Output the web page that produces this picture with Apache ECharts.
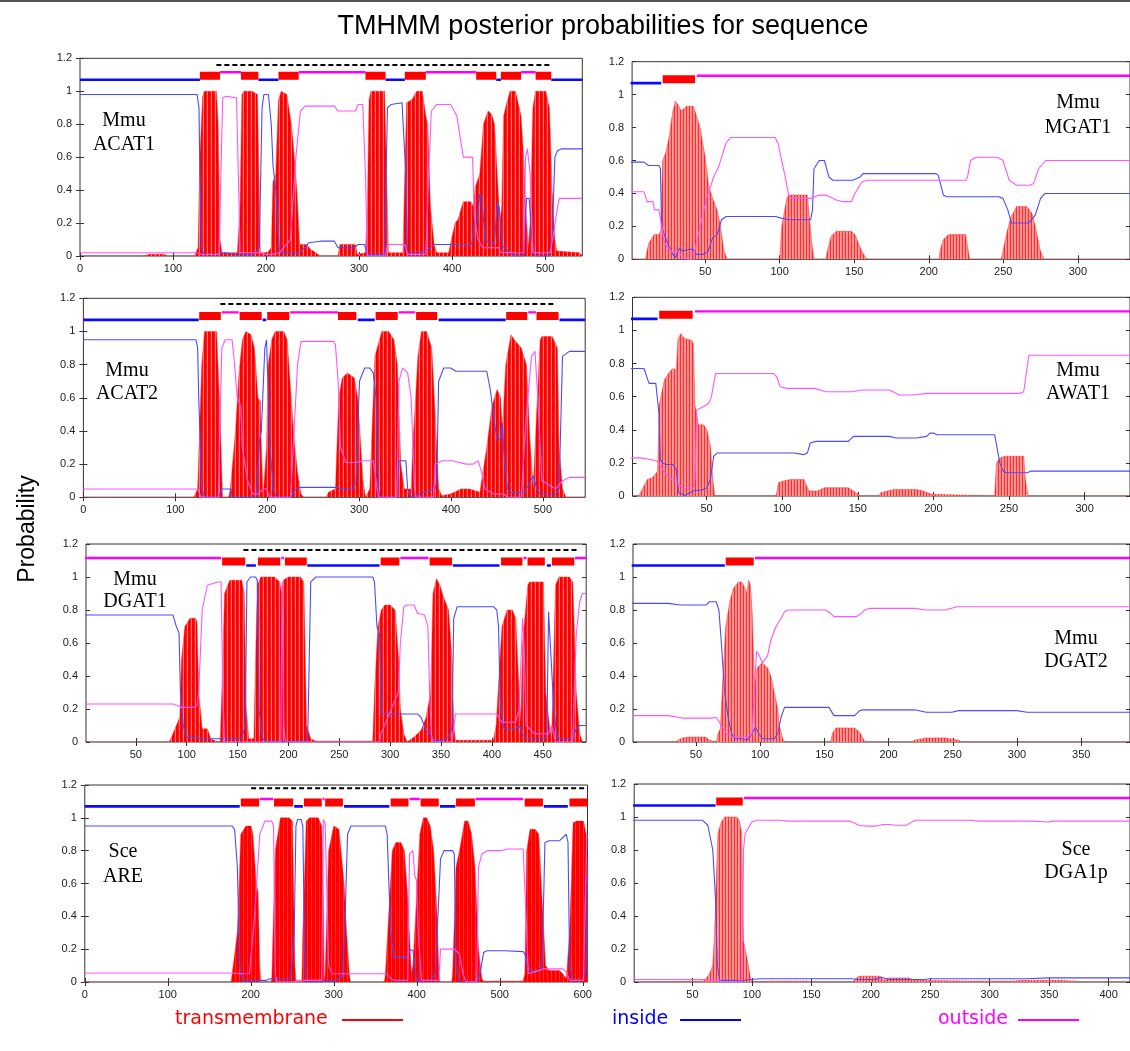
<!DOCTYPE html>
<html><head><meta charset="utf-8">
<script src="https://cdn.jsdelivr.net/npm/echarts/dist/echarts.min.js"></script>
<style>html,body{margin:0;padding:0;background:#fff;}#chart{width:1130px;height:1051px;}</style>
</head><body><div id="chart"></div>
<script>
// ================= DATA =================
// Each curve: [residue, probability]. Topology: [type, start, end] (i=inside, o=outside, M=transmembrane)

// ---- Mmu ACAT1 ----
const acat1TM = [[0,0],[68.9,0],[73.8,0.01],[90.5,0.01],[93.4,0],[123,0],[126.9,0.05],[128.9,0.6],[131.8,0.97],[133.8,1.0],[146.6,1.0],[148.5,0.8],[150.5,0.1],[152.5,0.02],[169.2,0.02],[172.1,0.3],[174.1,0.98],[176.1,1.0],[184.9,1.0],[190.8,0.98],[192.3,0.5],[193.8,0.02],[201.6,0.02],[205.6,0.05],[207.5,0.45],[210.5,0.5],[213.4,0.95],[216.4,1.0],[222.3,0.98],[227.2,0.8],[229.2,0.68],[233.1,0.4],[236.1,0.07],[243.9,0.07],[247.9,0.04],[253.8,0.02],[257.7,0],[277.4,0],[279.3,0.07],[296.1,0.07],[298,0.01],[306.9,0.02],[308.9,0.3],[310.8,0.95],[312.8,1.0],[327.5,1.0],[329.5,0.5],[331.5,0.02],[347.2,0.02],[349.2,0.5],[351.1,0.93],[357,0.95],[362,1.0],[367.9,1.0],[371.8,0.85],[373.8,0.8],[376.7,0.3],[380.7,0.07],[383.6,0.02],[396.4,0.02],[399.3,0.1],[403.3,0.2],[406.2,0.22],[412.1,0.33],[420,0.33],[423,0.3],[424.9,0.42],[426.9,0.45],[429.8,0.5],[433.8,0.8],[438.7,0.88],[442.6,0.86],[445.6,0.8],[448.5,0.5],[451.5,0.2],[453.4,0.3],[455.4,0.85],[458.4,0.92],[462.3,1.0],[468.2,1.0],[474.1,0.85],[477,0.6],[479,0.3],[482,0.05],[483.9,0.2],[486.9,0.9],[489.8,1.0],[500.7,1.0],[504.6,0.9],[507.5,0.4],[510.5,0.1],[512.5,0.03],[537,0.02],[540,0]];
const acat1In = [[0,0.98],[125.9,0.98],[127.9,0.9],[128.9,0.5],[130.8,0.05],[132.8,0.01],[147.5,0.01],[155.4,0.02],[167.2,0.01],[186.9,0.01],[192.8,0.05],[195.7,0.9],[197.7,0.98],[202.6,0.98],[205.6,0.8],[207.5,0.55],[210.5,0.4],[214.4,0.02],[236.1,0.02],[241,0.05],[245.9,0.08],[258.7,0.09],[273.4,0.09],[277.4,0.05],[295.1,0.05],[299,0.07],[305.9,0.07],[308.9,0.01],[327.5,0.01],[330.5,0.9],[334.4,0.92],[346.2,0.93],[350.2,0.5],[352.1,0.02],[363.9,0.02],[373.8,0.04],[380.7,0.07],[421,0.07],[423.9,0.2],[426.9,0.21],[429.8,0.38],[431.8,0.35],[435.7,0.1],[439.7,0.08],[445.6,0.08],[448.5,0.32],[450.5,0.3],[454.4,0.06],[458.4,0.04],[466.2,0],[477,0],[480,0.35],[482.9,0.35],[485.9,0.1],[488.8,0],[504.6,0],[507.5,0.1],[510.5,0.6],[513.4,0.64],[517.4,0.65],[540,0.65]];
const acat1Out = [[0,0.02],[125.9,0.02],[129.8,0.01],[149.5,0.01],[151.5,0.5],[153.4,0.96],[157.4,0.97],[168.2,0.96],[170.2,0.5],[172.1,0.02],[192.8,0.02],[196.7,0.01],[206.6,0.01],[214.4,0.02],[226.2,0.1],[232.1,0.6],[237,0.88],[242,0.91],[273.4,0.91],[277.4,0.88],[296.1,0.88],[299,0.92],[303.9,0.92],[306.9,0.5],[308.9,0],[328.5,0],[330.5,0.07],[349.2,0.07],[352.1,0.01],[371.8,0.01],[374.8,0.5],[377.7,0.88],[383.6,0.92],[398.4,0.92],[405.2,0.85],[409.2,0.7],[412.1,0.6],[422,0.6],[423.9,0.25],[427.9,0.1],[432.8,0.05],[450.5,0.05],[452.5,0.02],[477,0.02],[479,0.6],[481,0.65],[483.9,0.5],[486.9,0.02],[505.6,0.02],[509.5,0.15],[513.4,0.3],[515.4,0.35],[540,0.35]];
const acat1Topo = [['i',0,128.9],['M',128.9,150.5],['o',150.5,173.1],['M',173.1,191.8],['i',191.8,213.4],['M',213.4,235.1],['o',235.1,306.9],['M',306.9,328.5],['i',328.5,349.2],['M',349.2,371.8],['o',371.8,425.9],['M',425.9,447.5],['i',447.5,452.5],['M',452.5,474.1],['o',474.1,489.8],['M',489.8,506.6],['i',506.6,540]];
const acat1Dash = [146.6, 506.6, 1.16];

// ---- Mmu MGAT1 ----
const mgat1TM = [[0,0],[10,0],[11,0.05],[12.3,0.1],[15.8,0.15],[19.2,0.15],[20.3,0.18],[21.5,0.6],[23.7,0.65],[26,0.75],[28.3,0.9],[30.1,0.96],[31.7,0.94],[34,0.9],[37.4,0.93],[42,0.93],[43.2,0.9],[46.6,0.8],[50,0.62],[52.3,0.45],[54.6,0.38],[58,0.3],[60.3,0.2],[62.6,0.05],[64.8,0],[100,0],[101.4,0.2],[104.8,0.37],[106,0.39],[118.5,0.39],[119.6,0.38],[121.5,0.1],[123,0],[131,0],[132,0.05],[134.5,0.14],[138,0.17],[148,0.17],[150.5,0.15],[155,0.05],[158.4,0],[207,0],[207.5,0.05],[209.8,0.12],[213.2,0.15],[224.7,0.15],[227.4,0],[248.6,0],[249.8,0.05],[252.1,0.15],[254.8,0.25],[258.9,0.32],[265.8,0.32],[269.2,0.28],[271.5,0.2],[274.9,0.05],[277.2,0],[335,0]];
const mgat1In = [[0,0.59],[9,0.59],[12,0.57],[19,0.57],[20,0.55],[20.8,0.2],[22.6,0.15],[27,0.05],[30,0.01],[33,0.07],[35,0.05],[39,0.06],[42,0.06],[44,0.03],[49,0.03],[52,0.05],[55,0.13],[58,0.15],[61,0.24],[64,0.26],[97,0.26],[101,0.25],[106,0.24],[120.8,0.24],[122,0.3],[123,0.55],[126.5,0.6],[130,0.6],[133,0.5],[135.6,0.48],[149,0.48],[154,0.5],[156,0.52],[205,0.52],[206.4,0.51],[209.8,0.39],[212,0.38],[247,0.38],[249.8,0.37],[253,0.3],[255.5,0.22],[267,0.22],[271.5,0.27],[275,0.37],[278,0.4],[335,0.4]];
const mgat1Out = [[0,0.41],[9,0.41],[11,0.35],[15,0.35],[16,0.3],[19,0.3],[20.3,0.23],[22.6,0.1],[28,0.04],[32,0.05],[34,0.02],[38.6,0],[42,0],[43,0.05],[46.6,0.2],[51,0.37],[55.7,0.5],[59,0.56],[63.7,0.7],[67,0.74],[97,0.74],[99,0.7],[103.7,0.5],[106,0.39],[108,0.37],[120.8,0.37],[126.5,0.39],[131,0.39],[138,0.36],[142.5,0.35],[148,0.35],[150.5,0.4],[155,0.47],[158.4,0.48],[225,0.48],[226,0.5],[228,0.6],[231.5,0.62],[246,0.62],[249.8,0.6],[254,0.48],[259,0.45],[268,0.45],[270.3,0.46],[273.7,0.55],[278.3,0.6],[335,0.6]];
const mgat1Topo = [['i',0,20.5],['M',21.5,43.2],['o',44.3,335]];

// ---- Mmu ACAT2 ----
const acat2TM = [[0,0],[120,0],[124.3,0.05],[128.8,0.8],[131.8,1.0],[144.9,1.0],[148.7,0.5],[151.3,0],[158,0],[159.9,0.05],[165.5,0.4],[169.3,0.75],[173,0.95],[176.8,1.0],[182.4,0.98],[186.1,0.9],[189.9,0.6],[192.5,0.58],[193.6,0.3],[195.5,0],[199.3,0.3],[201.1,0.8],[204.9,0.95],[208.6,1.0],[218,1.0],[221.7,0.95],[227.3,0.5],[229.2,0.35],[233,0.15],[236.7,0.02],[240,0],[264,0],[266.7,0.03],[274.2,0.05],[277.9,0.6],[281.6,0.72],[287.3,0.75],[294.8,0.72],[298.5,0.6],[304.1,0.1],[307,0],[309,0],[311.6,0.05],[317.2,0.85],[324.7,1.0],[332.2,1.0],[337.8,0.95],[341.6,0.8],[345.3,0.2],[349.1,0.05],[356.6,0.05],[358.4,0.3],[364,0.85],[367.8,1.0],[373.4,1.0],[379,0.9],[382.8,0.5],[386.5,0.05],[390,0.01],[399.6,0.02],[410.9,0.05],[420.2,0.05],[431.5,0.03],[433.3,0.1],[438.9,0.3],[444.6,0.55],[450.2,0.65],[453.9,0.6],[455.8,0.4],[459.6,0.8],[465.2,0.98],[468.9,0.95],[476.4,0.9],[482,0.8],[485.8,0.35],[489.5,0.05],[491.4,0.3],[497,0.95],[498.9,0.97],[510.1,0.97],[515.7,0.9],[517.6,0.3],[521.3,0.05],[525.1,0],[546,0]];
const acat2In = [[0,0.95],[122.5,0.95],[124.3,0.9],[125.5,0.6],[128.8,0.05],[132,0],[146.8,0],[150.6,0.05],[160.7,0.05],[161.8,0],[188,0],[191.8,0.35],[193.6,0.4],[197.4,0.9],[199.3,0.95],[203,0.3],[206.7,0.05],[210,0],[225.5,0],[231.1,0.05],[234.8,0.06],[274.2,0.06],[281.6,0.05],[292.9,0.05],[296.6,0.09],[300.4,0.7],[306,0.78],[311.6,0.78],[315.4,0.75],[318.4,0.6],[321,0.05],[322.8,0],[341,0],[343.4,0.22],[350.9,0.22],[352.8,0.05],[356.6,0],[370,0.03],[382.8,0.05],[384.6,0.1],[386.5,0.7],[392.1,0.78],[399.6,0.78],[405.2,0.76],[438.9,0.76],[440,0.75],[442.7,0.65],[447.2,0.45],[450.2,0.35],[453.9,0.35],[455.8,0.45],[457.7,0.25],[461.4,0.05],[465,0.03],[480,0.03],[489.5,0.13],[493.3,0.05],[497,0.02],[513.9,0.02],[517.6,0.05],[521.3,0.85],[528.8,0.88],[546,0.88]];
const acat2Out = [[0,0.05],[124.3,0.05],[128,0],[146.8,0],[150.6,0.9],[154.3,0.95],[161.8,0.95],[163.7,0.85],[167.4,0.6],[171.2,0.55],[173,0.3],[178.7,0.1],[184.3,0.02],[190,0.02],[195.5,0.05],[199.3,0.05],[203,0],[225.5,0],[233,0.8],[236.7,0.94],[272.3,0.94],[274.2,0.92],[277.2,0.7],[279.8,0.3],[285.4,0.21],[296.6,0.21],[304.1,0.22],[315.4,0.22],[317.2,0.15],[321,0],[341,0],[343.4,0.7],[347.2,0.78],[352.8,0.75],[356.6,0.6],[360.3,0.05],[362,0],[380.9,0],[382.8,0.2],[390.3,0.22],[401.5,0.22],[416.5,0.2],[424,0.2],[429.6,0.22],[433.3,0.15],[437.1,0.05],[446.4,0.02],[457.7,0.02],[461.4,0],[476.4,0],[482,0.5],[487.6,0.85],[491.4,0.88],[494.4,0.6],[498.9,0.1],[513.9,0.05],[521.3,0.1],[528.8,0.12],[546,0.12]];
const acat2Topo = [['i',0,125.5],['M',126,149.5],['o',150.5,169],['M',170,194],['i',195,199],['M',200,224],['o',225,277],['M',277,297],['i',298.5,317],['M',318,342],['o',343,361],['M',362,385],['i',386.5,459.5],['M',460,483],['o',484,492.5],['M',493,517],['i',518,546]];
const acat2Dash = [149, 514, 1.166];

// ---- Mmu AWAT1 ----
const awat1TM = [[0,0],[5.2,0],[6.3,0.02],[10.8,0.1],[14.2,0.11],[17.6,0.15],[18.7,0.55],[22.1,0.7],[25.5,0.75],[27.7,0.77],[30,0.76],[31.1,0.95],[32.9,0.98],[35.6,0.95],[40.1,0.94],[41.2,0.92],[42.3,0.55],[44.6,0.43],[48,0.43],[50.2,0.4],[52.5,0.3],[54.1,0.1],[55.4,0],[96,0],[97.5,0.08],[100.9,0.09],[105.4,0.1],[114.4,0.1],[116.7,0.05],[117.8,0.03],[123.4,0.03],[127.9,0.05],[143.7,0.05],[147.1,0.03],[151.6,0],[164,0],[165.1,0.02],[174.1,0.04],[188.7,0.04],[193.2,0.03],[198.9,0.01],[200,0],[240.5,0],[241.7,0.2],[243.9,0.23],[247.3,0.24],[259.7,0.24],[260.8,0.1],[262.6,0],[330,0]];
const awat1In = [[0,0.77],[8.6,0.77],[9.7,0.76],[11.9,0.68],[16.4,0.68],[17.6,0.67],[18.5,0.5],[19.4,0.22],[20.9,0.2],[23.2,0.19],[27.7,0.19],[30,0.16],[30.6,0.15],[31.5,0.02],[35.6,0.005],[39,0.02],[42.3,0.035],[46.8,0.035],[50.2,0.05],[52.5,0.1],[54.7,0.24],[57,0.26],[107.7,0.26],[114.4,0.25],[116.7,0.26],[118.5,0.32],[122.3,0.33],[143.7,0.33],[147.1,0.36],[170.7,0.36],[175.2,0.35],[188.7,0.35],[195.5,0.36],[197.7,0.38],[200,0.38],[202.3,0.37],[240.5,0.37],[241.7,0.36],[243.9,0.2],[246.2,0.15],[248.4,0.14],[262,0.14],[264.2,0.15],[330,0.15]];
const awat1Out = [[0,0.23],[6.3,0.23],[13.1,0.22],[17.6,0.21],[18.7,0.2],[20.9,0.16],[24.3,0.12],[27.7,0.1],[31.5,0.07],[34.5,0.05],[41.2,0.05],[42.3,0.1],[43.5,0.52],[48,0.54],[51.4,0.56],[53.2,0.6],[55.9,0.74],[58.1,0.74],[94.1,0.74],[96.4,0.72],[98.6,0.66],[103.2,0.65],[121.2,0.65],[129,0.63],[146,0.63],[152.7,0.64],[171,0.64],[175.2,0.62],[177.5,0.61],[186.5,0.61],[195.5,0.62],[257.4,0.62],[259.7,0.63],[263.1,0.85],[330,0.85]];
const awat1Topo = [['i',0,17.6],['M',18.7,40.8],['o',42.3,330]];

// ---- Mmu DGAT1 ----
const dgat1TM = [[0,0],[83,0],[84,0.005],[86.4,0.05],[89.8,0.1],[93.2,0.15],[94.9,0.5],[98.2,0.7],[103.3,0.75],[108.4,0.75],[110.1,0.73],[111.8,0.3],[115.2,0.08],[120.3,0.08],[123.6,0.02],[130.4,0],[133,0],[134.5,0.3],[137.2,0.9],[142.3,0.98],[154.1,0.98],[156.5,0.9],[158.5,0.2],[160.9,0.02],[166,0.02],[167.7,0.5],[169.4,0.95],[172.8,1.0],[186.3,1.0],[191.4,0.97],[193.1,0.9],[194.8,0.98],[199.9,1.0],[211.7,1.0],[215.1,0.97],[217.8,0.1],[221.9,0.02],[227,0.005],[282.9,0.005],[284.6,0.3],[288,0.7],[291.3,0.8],[294.7,0.83],[299.8,0.83],[304.9,0.8],[308.3,0.5],[310,0.2],[313.4,0.05],[316.7,0],[323.5,0.03],[330.3,0.07],[335.4,0.15],[339.8,0.3],[342.1,0.9],[345.5,0.99],[348.9,0.95],[352.3,0.88],[357.4,0.8],[360.8,0.5],[362.5,0.1],[364.2,0.01],[401.5,0.01],[404.2,0.1],[409.9,0.7],[415,0.8],[420.1,0.8],[423.4,0.75],[426.8,0.3],[428.5,0.13],[430.2,0.6],[435.3,0.95],[437,0.97],[450.6,0.97],[453,0.3],[457.4,0.05],[459.1,0.1],[462.5,0.95],[465.9,1.0],[476.1,1.0],[479.5,0.97],[482.9,0.3],[486.3,0.05],[489,0],[492.7,0]];
const dgat1In = [[0,0.77],[86.4,0.77],[88.1,0.76],[89.8,0.7],[92.5,0.66],[93.8,0.3],[96.5,0.1],[99.9,0.03],[110.1,0.03],[113.5,0.02],[154.1,0.02],[155.8,0.025],[157.5,0.1],[159.2,0.97],[162.6,1.0],[167.7,1.0],[169.4,0.98],[171.1,0.2],[174.5,0.02],[177.9,0.005],[218.5,0.005],[219.2,0.1],[221.9,0.97],[227,1.0],[282.9,1.0],[284.6,0.97],[287,0.7],[289.6,0.65],[291.3,0.17],[293,0.17],[326.9,0.17],[330.3,0.15],[335.4,0.07],[338.8,0.05],[342.1,0.01],[350.6,0.01],[355.7,0.02],[359.1,0.05],[360.8,0.1],[362.5,0.75],[365.9,0.82],[401.5,0.82],[404.8,0.8],[406.5,0.7],[408.2,0.25],[411.6,0.08],[423.4,0.08],[426.8,0.1],[430.2,0.05],[433.6,0.02],[452.3,0.02],[454,0.05],[455.7,0.79],[457.4,0.8],[459.1,0.4],[460.8,0.2],[464.2,0.02],[479.4,0.02],[482.8,0.08],[486.3,0.1],[492.7,0.1]];
const dgat1Out = [[0,0.23],[86.4,0.23],[91.5,0.22],[94.9,0.21],[106.7,0.21],[110.1,0.22],[111.8,0.3],[115.2,0.8],[120.3,0.95],[130.4,0.97],[133.8,0.97],[135.5,0.3],[137.2,0],[192.5,0],[193.8,0.97],[195.5,0.1],[197,0],[289.6,0],[291,0.05],[308,0.3],[310,0.6],[313.4,0.82],[316.7,0.83],[323.5,0.83],[326.9,0.78],[333.7,0.77],[337.1,0.7],[338.8,0.3],[340.4,0.05],[342,0],[360.8,0],[364.2,0.17],[367.6,0.17],[404.8,0.17],[406.5,0.15],[410,0.12],[423.4,0.12],[426.8,0.2],[430.2,0.75],[431.9,0.55],[433.6,0.1],[442,0.05],[455.7,0.05],[458.7,0.1],[460.8,0.05],[462.5,0],[479.5,0],[481,0.3],[482.9,0.65],[486.3,0.85],[489,0.9],[492.7,0.9]];
const dgat1Topo = [['o',0,133.8],['M',134.8,157.5],['i',158.5,168],['M',170,192],['o',193,195.5],['M',196.5,218],['i',218.5,289.6],['M',290.7,309],['o',310,337.8],['M',338.8,360.8],['i',361.5,407.5],['M',409,430],['o',431,434],['M',435,452],['i',454,458],['M',459,481],['o',481.7,492.7]];
const dgat1Dash = [155.8, 486, 1.164];

// ---- Mmu DGAT2 ----
const dgat2TM = [[0,0],[34,0],[35.2,0.01],[39.2,0.025],[44.5,0.03],[57.8,0.03],[60.5,0.01],[62,0],[66,0],[67.1,0.05],[69,0.08],[71.1,0.4],[73.2,0.7],[76.4,0.85],[79.1,0.93],[83.1,0.97],[85.7,0.97],[88.4,0.93],[89.7,0.9],[91,0.98],[92.4,0.95],[93.7,0.8],[95.6,0.35],[97.7,0.45],[101.7,0.48],[105.7,0.45],[108.4,0.4],[111,0.3],[113.7,0.2],[115,0.1],[117.6,0.02],[119,0],[154.9,0],[156.2,0.05],[158.9,0.085],[173.5,0.085],[177.5,0.06],[180.2,0.02],[182,0],[218,0],[220.1,0.01],[229.4,0.025],[244,0.025],[254.6,0.01],[257,0],[388,0]];
const dgat2In = [[0,0.84],[28.6,0.84],[37.9,0.83],[57.8,0.83],[60.5,0.85],[65.8,0.85],[67.9,0.8],[69.8,0.6],[72.4,0.3],[75.1,0.15],[77.8,0.05],[80.4,0.02],[85.7,0.02],[89.7,0.01],[93.7,0.05],[96.4,0.09],[99,0.05],[101.7,0.02],[111,0.02],[113.7,0.05],[116.3,0.15],[119,0.21],[153.6,0.21],[154.9,0.2],[157.5,0.16],[173.5,0.16],[177.5,0.19],[180.2,0.195],[220.1,0.195],[229.4,0.18],[249.3,0.18],[254.6,0.19],[299.9,0.19],[307.8,0.18],[388,0.18]];
const dgat2Out = [[0,0.16],[28.6,0.16],[39.2,0.145],[63.1,0.145],[65.8,0.15],[69.8,0.1],[73.8,0.05],[79.1,0.03],[89.7,0.03],[93.7,0.05],[97.2,0.55],[99,0.53],[101.7,0.48],[105.7,0.52],[108.4,0.62],[112.4,0.7],[116.3,0.75],[119,0.79],[121.6,0.8],[151,0.8],[154.9,0.78],[157.5,0.76],[175,0.76],[178.8,0.78],[181.5,0.8],[185.5,0.81],[220.1,0.81],[229.4,0.8],[244,0.8],[253.3,0.82],[388,0.82]];
const dgat2Topo = [['i',0,72.5],['M',73.2,95],['o',96,388]];

// ---- Sce ARE ----
const areTM = [[0,0],[176,0],[177.6,0.05],[183.8,0.3],[188,0.9],[194.2,0.95],[200.4,0.95],[202.5,0.9],[206.6,0.6],[208.7,0.55],[210.8,0.1],[212,0],[224,0],[225.3,0.02],[229.5,0.8],[235.7,1.0],[246.1,1.0],[250.2,0.98],[253.1,0.1],[254.5,0],[261.5,0],[262.7,0.3],[266.8,0.98],[271,1.0],[281.3,1.0],[285.5,0.95],[287.5,0.5],[288.5,0],[289.6,0.05],[293.8,0.8],[300,0.95],[306.2,0.93],[312.4,0.6],[315.4,0.3],[318.7,0.05],[320,0],[361,0],[362.2,0.05],[370.5,0.8],[374.7,0.85],[380.9,0.85],[385.1,0.8],[389.2,0.5],[393.4,0.05],[395.4,0.1],[397.5,0.3],[403.7,0.9],[407.9,1.0],[412,1.0],[416.2,0.95],[420.3,0.8],[424.5,0.4],[426.6,0.05],[428,0],[442,0],[443.2,0.05],[447.3,0.7],[451.5,0.8],[457.7,0.98],[461.8,0.98],[466,0.9],[470.1,0.7],[474.3,0.2],[478.4,0.02],[480.5,0.005],[528,0.005],[530.3,0.05],[532.4,0.8],[536.5,0.93],[542.7,0.93],[546.9,0.9],[551,0.5],[555.2,0.1],[559.3,0.07],[571.8,0.07],[575.9,0.05],[580.1,0.02],[584.2,0.3],[588.4,0.97],[592.5,0.98],[600.8,0.98],[604.1,0.9],[605.8,0.7]];
const areIn = [[0,0.95],[177.6,0.95],[180.5,0.93],[183.8,0.7],[186.7,0.1],[190,0.01],[219,0.01],[223.2,0.02],[248,0.02],[252.3,0.3],[254.4,0.95],[256.4,0.99],[260.6,0.99],[262.7,0.95],[264.7,0.2],[266.8,0],[285.5,0],[289.6,0.01],[302.1,0.01],[310.4,0.03],[313.7,0.4],[316.6,0.9],[320.7,0.95],[362.2,0.95],[364.3,0.9],[368.5,0.3],[372.6,0.15],[389.2,0.15],[391.3,0.2],[395.4,0.19],[397.5,0.1],[399.6,0.01],[416.2,0.01],[422.4,0.05],[428.6,0.75],[432.8,0.8],[443.2,0.8],[445.2,0.78],[447.3,0.1],[451.5,0],[472.2,0],[476.3,0.05],[480.5,0.18],[484.6,0.19],[505.4,0.19],[528.2,0.185],[530.3,0.17],[534.4,0.08],[538.6,0.07],[546.9,0.07],[551,0.1],[554.4,0.85],[559.3,0.86],[571.8,0.86],[580.1,0.9],[582.2,0.85],[584.2,0.1],[588.4,0.01],[600.8,0.01],[604,0.1],[605.8,0.65]];
const areOut = [[0,0.055],[177.6,0.055],[186.7,0.05],[198.3,0.05],[204.6,0.4],[210.8,0.9],[217,0.98],[225.3,0.98],[227.4,0.95],[229.5,0.05],[231.5,0],[252.3,0],[256.4,0.01],[285.5,0.01],[287.5,0.99],[289.6,0.97],[293.8,0.1],[297.9,0.05],[364.3,0.05],[368.5,0.02],[372.6,0.01],[389.2,0.01],[391.3,0.78],[395.4,0.8],[397.5,0.65],[399.6,0.62],[401.7,0.3],[405.8,0.01],[426.6,0.01],[428.6,0.2],[445.2,0.2],[451.5,0.17],[455.6,0.05],[459.7,0],[472.2,0],[474.3,0.7],[478.4,0.78],[484.6,0.8],[501.2,0.8],[509.5,0.81],[528.2,0.81],[532.4,0.3],[534.4,0.05],[553.1,0.08],[575.9,0.08],[580.1,0.06],[584.2,0.01],[600.8,0.01],[605,0.9],[605.8,0.9]];
const areTopo = [['i',0,186.7],['M',188,210],['o',210.8,227],['M',228,251],['i',252.3,262.7],['M',264,285.5],['o',286.6,288.8],['M',289.6,311],['i',312.4,367],['M',368.5,390],['o',391.3,403.7],['M',404.6,426.5],['i',427.8,446.5],['M',447.3,470],['o',471,528],['M',530,552],['i',553,582],['M',584,605.8]];
const areDash = [200.4, 605.8, 1.18];

// ---- Sce DGA1p ----
const dga1pTM = [[0,0],[58.6,0.005],[61.4,0.02],[64.3,0.05],[67.1,0.1],[68.6,0.3],[71.4,0.9],[74.3,0.97],[77.1,1.0],[87.1,1.0],[89.4,0.98],[91.4,0.9],[92.9,0.25],[94.3,0.2],[97.1,0.1],[98.6,0.03],[100,0],[115.7,0.005],[147.1,0.005],[150,0],[185,0],[187.1,0.02],[190,0.035],[207.1,0.035],[211.4,0.01],[214.3,0.025],[232.9,0.025],[235.7,0.01],[237,0],[290,0.005],[318.6,0.005],[327.1,0.01],[357.1,0.01],[372.9,0.005],[375,0],[418,0]];
const dga1pIn = [[0,0.98],[58.6,0.98],[62.9,0.95],[67.1,0.8],[69.4,0.5],[70.9,0.1],[72.9,0.01],[87.1,0.01],[90,0.005],[94.3,0.01],[98.6,0.015],[107.1,0.02],[184.3,0.02],[190,0.015],[204.3,0.015],[208.6,0.03],[212.9,0.02],[215.7,0.015],[244.3,0.015],[250,0.02],[330,0.02],[350,0.025],[418,0.025]];
const dga1pOut = [[0,0.015],[61.4,0.015],[70,0.01],[78.6,0],[91.4,0],[92.3,0.3],[92.9,0.8],[94.3,0.9],[100,0.97],[104.3,0.98],[124.3,0.98],[130,0.975],[181.4,0.975],[184.3,0.97],[190,0.95],[195.7,0.945],[204.3,0.945],[210,0.955],[215.7,0.955],[221.4,0.95],[230,0.95],[235.7,0.975],[238.6,0.98],[284.3,0.98],[290,0.975],[335.7,0.975],[348.6,0.97],[352.9,0.975],[418,0.975]];
const dga1pTopo = [['i',0,69.4],['M',70,92.3],['o',93.4,418]];

// panel texts, axis extents and tick values
const panelSpecies = ['Mmu','Mmu','Mmu','Mmu','Mmu','Mmu','Sce','Sce'];
const panelGenes   = ['ACAT1','MGAT1','ACAT2','AWAT1','DGAT1','DGAT2','ARE','DGA1p'];
const axisMin      = [0, 1, 0, 1, 1, 1, 0, 1];
const axisMax      = [540, 335, 546, 330, 492.7, 388, 605.7, 418];
const xTicksL      = [0,100,200,300,400,500,600];
const xTicksS      = [50,100,150,200,250,300,350,400,450];
const tickSet      = [xTicksL, xTicksS, xTicksL, xTicksS, xTicksS, xTicksS, xTicksL, xTicksS];
const yTicks       = [0, 1.2, 0.2];
const levelIn = 1.07, levelOut = 1.115, levelTM = 1.094;

// ================= LAYOUT (pixels) =================
const boxes = [
  {l:80,    t:58.3, w:502.3, h:197.7, lx:124, ly:[121,145]},
  {l:632.1, t:61.7, w:503.5, h:197.6, lx:1078, ly:[103,127.5]},
  {l:83.4,  t:298.3,w:501.8, h:199,   lx:127, ly:[371,393.5]},
  {l:632.5, t:297.3,w:503.2, h:198.7, lx:1078, ly:[370.5,393.5]},
  {l:86,    t:544,  w:500.2, h:198,   lx:135, ly:[580,601.5]},
  {l:633,   t:544,  w:502,   h:198,   lx:1076, ly:[638.5,661.5]},
  {l:84.8,  t:785,  w:502.7, h:197,   lx:123, ly:[851.5,876.5]},
  {l:634.2, t:784,  w:502.5, h:198,   lx:1076, ly:[849.5,872.5]}
];
const panelData = [
  [acat1TM, acat1In, acat1Out, acat1Topo, acat1Dash],
  [mgat1TM, mgat1In, mgat1Out, mgat1Topo, null],
  [acat2TM, acat2In, acat2Out, acat2Topo, acat2Dash],
  [awat1TM, awat1In, awat1Out, awat1Topo, null],
  [dgat1TM, dgat1In, dgat1Out, dgat1Topo, dgat1Dash],
  [dgat2TM, dgat2In, dgat2Out, dgat2Topo, null],
  [areTM, areIn, areOut, areTopo, areDash],
  [dga1pTM, dga1pIn, dga1pOut, dga1pTopo, null]
];

function stripes(cols){
  const c = document.createElement('canvas'); c.width = cols.length; c.height = 4;
  const g = c.getContext('2d');
  cols.forEach((col,i)=>{ g.fillStyle = col; g.fillRect(i,0,1,4); });
  return c;
}
const patDense = stripes(['#ff0000','#ff0000','#ff1a1a','#ff7a7a']);
const patSolid = stripes(['#ff0000','#ff0000','#ff0000','#ff3030']);
const patLight = stripes(['#ff9a9a','#ff8c8c','#ff2c2c']);
const pats = [patDense, patLight, patDense, patLight, patDense, patLight, patSolid, patLight];

function topoData(topo, type, y){
  const out = [];
  topo.forEach(s => { if (s[0] === type){ out.push([s[1], y]); out.push([s[2], y]); out.push([s[2], '-']); } });
  return out;
}

const grid = [], xAxis = [], yAxis = [], series = [], graphic = [];
const axisCol = '#333';
boxes.forEach((b, i) => {
  grid.push({left:b.l, top:b.t, width:b.w, height:b.h, show:true, borderColor:'#333', borderWidth:1, backgroundColor:'transparent'});
  const mn = axisMin[i], mx = axisMax[i];
  const ticks = tickSet[i].filter(v => v >= mn && v <= mx);
  const xBase = {gridIndex:i, type:'value', min:mn, max:mx,
    axisLine:{show:false}, splitLine:{show:false},
    axisTick:{show:true, inside:true, length:4, customValues:ticks, lineStyle:{color:axisCol, width:1}}};
  xAxis.push(Object.assign({}, xBase, {position:'bottom',
    axisLabel:{fontSize:11, color:'#222', fontFamily:'Liberation Sans', margin:7, customValues:ticks}}));
  xAxis.push(Object.assign({}, xBase, {position:'top', axisLabel:{show:false}}));
  const yBase = {gridIndex:i, type:'value', min:yTicks[0], max:yTicks[1], interval:yTicks[2],
    axisLine:{show:false}, splitLine:{show:false},
    axisTick:{show:true, inside:true, length:4, lineStyle:{color:axisCol, width:1}}};
  yAxis.push(Object.assign({}, yBase, {position:'left',
    axisLabel:{fontSize:11, color:'#222', fontFamily:'Liberation Sans', margin:8}}));
  yAxis.push(Object.assign({}, yBase, {position:'right', axisLabel:{show:false}}));

  const [tm, inn, out, topo, dash] = panelData[i];
  const xi = 2*i, yi = 2*i;
  series.push({type:'line', xAxisIndex:xi, yAxisIndex:yi, data:tm, symbol:'none', z:1,
    lineStyle:{color:'rgba(255,30,30,0.75)', width:0.6},
    areaStyle:{color:{image:pats[i], repeat:'repeat'}, opacity:1}});
  series.push({type:'line', xAxisIndex:xi, yAxisIndex:yi, data:inn, symbol:'none', z:3,
    lineStyle:{color:'#4a4aff', width:1.1}});
  series.push({type:'line', xAxisIndex:xi, yAxisIndex:yi, data:out, symbol:'none', z:3,
    lineStyle:{color:'#ff55ff', width:1.1}});
  series.push({type:'line', xAxisIndex:xi, yAxisIndex:yi, data:topoData(topo,'i',levelIn), symbol:'none', z:4, connectNulls:false,
    lineStyle:{color:'#0a0aff', width:2.6}});
  series.push({type:'line', xAxisIndex:xi, yAxisIndex:yi, data:topoData(topo,'o',levelOut), symbol:'none', z:4, connectNulls:false,
    lineStyle:{color:'#ff00ff', width:2.4}});
  series.push({type:'line', xAxisIndex:xi, yAxisIndex:yi, data:topoData(topo,'M',levelTM), symbol:'none', z:5, connectNulls:false,
    lineStyle:{color:'#ff0000', width:8, cap:'butt'}});
  if (dash){
    series.push({type:'line', xAxisIndex:xi, yAxisIndex:yi, data:[[dash[0],dash[2]],[dash[1],dash[2]]], symbol:'none', z:5,
      lineStyle:{color:'#000', width:2, type:[5,3]}});
  }
  [panelSpecies[i], panelGenes[i]].forEach((t, k) => {
    graphic.push({type:'text', x:b.lx, y:b.ly[k], z:10, style:{text:t, fill:'#000',
      font:'20px "Liberation Serif", "DejaVu Serif", serif', textAlign:'center', textVerticalAlign:'middle', align:'center', verticalAlign:'middle'}});
  });
});

graphic.push({type:'line', shape:{x1:0,y1:1,x2:1130,y2:1}, style:{stroke:'#555', lineWidth:2}});
graphic.push({type:'text', x:603, y:27, style:{text:'TMHMM posterior probabilities for sequence', fill:'#000',
  font:'27px "Liberation Sans", Arial, sans-serif', textAlign:'center', textVerticalAlign:'middle', align:'center', verticalAlign:'middle'}});
graphic.push({type:'text', x:28, y:529, rotation:Math.PI/2, style:{text:'Probability', fill:'#000',
  font:'23px "Liberation Sans", Arial, sans-serif', textAlign:'center', textVerticalAlign:'middle', align:'center', verticalAlign:'middle'}});
const legendItems = [['transmembrane','#ff0000',175,342,403],['inside','#0000ff',612,680,741],['outside','#ff00ff',938,1018,1079]];
legendItems.forEach(([t,c,tx,l1,l2]) => {
  graphic.push({type:'text', x:tx, y:1019, style:{text:t, fill:c, font:'19px "DejaVu Sans", sans-serif',
    textAlign:'left', textVerticalAlign:'middle', align:'left', verticalAlign:'middle'}});
  graphic.push({type:'line', shape:{x1:l1,y1:1020,x2:l2,y2:1020}, style:{stroke:c, lineWidth:2}});
});

const chart = echarts.init(document.getElementById('chart'), null, {renderer:'canvas'});
chart.setOption({animation:false, backgroundColor:'#fff', grid, xAxis, yAxis, series, graphic});
</script></body></html>
